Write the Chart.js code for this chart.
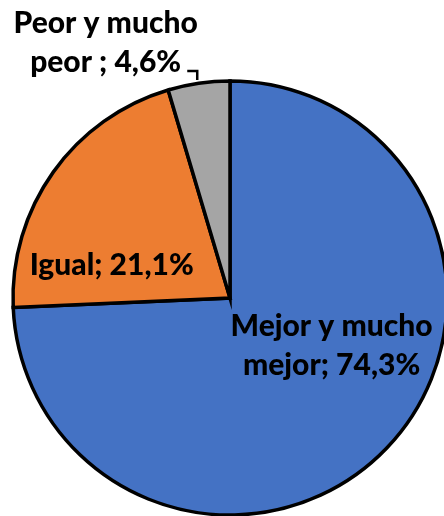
<!DOCTYPE html>
<html>
<head>
<meta charset="utf-8">
<script src="https://cdn.jsdelivr.net/npm/chart.js@4/dist/chart.umd.min.js"></script>
<style>
    html, body { margin: 0; padding: 0; background: #fff; }
    #wrap { width: 444px; height: 516px; position: relative; }
</style>
</head>
<body>
<div id="wrap"><canvas id="pieChart" width="444" height="516"></canvas></div>
<script>
// categories and values (percent)
const categories = ['Mejor y mucho mejor', 'Igual', 'Peor y mucho peor'];
const values = [74.3, 21.1, 4.6];
const labelLines = [
    ['Mejor y mucho', 'mejor; 74,3%'],
    ['Igual; 21,1%'],
    ['Peor y mucho', 'peor ; 4,6%']
];
const colors = ['#4472C4', '#ED7D31', '#A5A5A5'];

// label centres, relative to pie centre, in units of radius
const labelOffsets = [[0.468, 0.22], [-0.545, -0.15], [-0.573, -1.174]];

const labelPlugin = {
    id: 'sliceLabels',
    afterDatasetsDraw(chart) {
        const ctx = chart.ctx;
        const arcs = chart.getDatasetMeta(0).data;
        ctx.save();
        ctx.fillStyle = '#000';
        ctx.font = '900 30px Lato';
        ctx.textAlign = 'center';
        ctx.textBaseline = 'middle';
        const lh = 39;
        arcs.forEach((arc, i) => {
            const r = arc.outerRadius;
            const cx = arc.x + labelOffsets[i][0] * r;
            const cy = arc.y + labelOffsets[i][1] * r;
            const lines = labelLines[i];
            lines.forEach((t, j) => {
                ctx.fillText(t, cx, cy + (j - (lines.length - 1) / 2) * lh);
            });
        });
        // leader line for the small slice
        const a = arcs[2];
        const r = a.outerRadius;
        ctx.strokeStyle = '#000';
        ctx.lineWidth = 2.5;
        ctx.beginPath();
        ctx.moveTo(a.x - 0.197 * r, a.y - 1.046 * r);
        ctx.lineTo(a.x - 0.151 * r, a.y - 1.046 * r);
        ctx.lineTo(a.x - 0.151 * r, a.y - 1.005 * r);
        ctx.stroke();
        ctx.restore();
    }
};

const ctx = document.getElementById('pieChart').getContext('2d');
const pieChart = new Chart(ctx, {
    type: 'pie',
    data: {
        labels: categories,
        datasets: [{
            data: values,
            backgroundColor: colors,
            borderColor: '#000',
            borderWidth: 3.5,
            borderJoinStyle: 'miter',
            clip: false
        }]
    },
    options: {
        responsive: false,
        animation: false,
        radius: 217,
        layout: { padding: { left: 16, top: 80 } },
        plugins: {
            legend: { display: false },
            tooltip: { enabled: false }
        }
    },
    plugins: [labelPlugin]
});
</script>
</body>
</html>
